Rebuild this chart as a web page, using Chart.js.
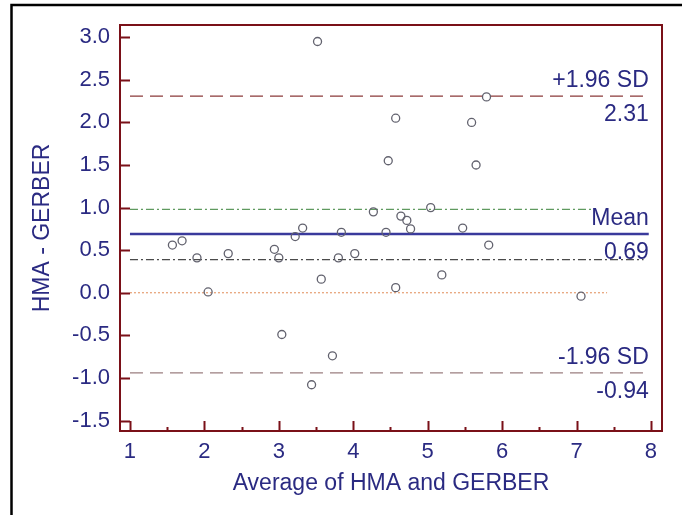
<!DOCTYPE html>
<html lang="pt-BR">
<head>
<meta charset="UTF-8">
<title>HMA x GERBER</title>
<script src="https://cdn.jsdelivr.net/npm/chart.js@4/dist/chart.umd.min.js"></script>
<style>
  html, body { margin: 0; padding: 0; background: #fff; }
  #wrap { position: relative; width: 682px; height: 515px; }
</style>
</head>
<body>
<div id="wrap"><canvas id="baChart" width="682" height="515"></canvas></div>
<script>
// Média de HMA e GERBER (eixo x) para cada amostra
const avgValues = [1.57, 1.70, 1.90, 2.05, 2.32, 2.94, 3.00, 3.04, 3.22, 3.32, 3.44,
  3.52, 3.57, 3.72, 3.80, 3.84, 4.02, 4.27, 4.44, 4.47, 4.57, 4.57, 4.64, 4.72,
  4.77, 5.04, 5.19, 5.47, 5.59, 5.65, 5.79, 5.82, 7.06];
// Diferença HMA - GERBER (eixo y)
const diffValues = [0.56, 0.61, 0.41, 0.01, 0.46, 0.51, 0.41, -0.49, 0.66, 0.76, -1.08,
  2.95, 0.16, -0.74, 0.41, 0.71, 0.46, 0.95, 0.71, 1.55, 2.05, 0.06, 0.90, 0.85,
  0.75, 1.00, 0.21, 0.76, 2.00, 1.50, 2.30, 0.56, -0.04];

// Linhas de referência: média e limites de concordância
const refNames = ['+1.96 SD', 'Mean', '-1.96 SD'];
const refValues = [2.31, 0.69, -0.94];
// Intervalo de confiança da média
const meanCi = [0.98, 0.39];

const xTicks = [1, 2, 3, 4, 5, 6, 7, 8];
const yTicks = [-1.5, -1.0, -0.5, 0.0, 0.5, 1.0, 1.5, 2.0, 2.5, 3.0];

const navy = '#2a2a82';
const maroon = '#7a1018';
const fontFamily = "'Liberation Sans', Arial, sans-serif";

// Função para montar uma linha horizontal entre x0 e x1
function hLine(y, x0, x1, color, width, dash) {
    return {
        data: [{ x: x0, y: y }, { x: x1, y: y }],
        showLine: true,
        borderColor: color,
        borderWidth: width,
        borderDash: dash,
        pointRadius: 0,
        fill: false
    };
}

// Moldura externa, caixa do gráfico, marcas internas e rótulos das linhas
const framePlugin = {
    id: 'framePlugin',
    beforeDraw(chart) {
        const ctx = chart.ctx;
        ctx.save();
        ctx.fillStyle = '#fff';
        ctx.fillRect(0, 0, chart.width, chart.height);
        ctx.strokeStyle = '#000';
        ctx.lineWidth = 2.5;
        ctx.beginPath();
        ctx.moveTo(11.5, chart.height);
        ctx.lineTo(11.5, 5);
        ctx.lineTo(chart.width, 5);
        ctx.stroke();
        ctx.restore();
    },
    afterDraw(chart) {
        const ctx = chart.ctx;
        const area = chart.chartArea;
        const xs = chart.scales.x;
        const ys = chart.scales.y;
        ctx.save();

        // caixa
        ctx.strokeStyle = maroon;
        ctx.lineWidth = 2;
        ctx.strokeRect(area.left, area.top, area.right - area.left, area.bottom - area.top);

        // marcas do eixo y (para dentro)
        ctx.beginPath();
        yTicks.forEach(v => {
            const py = Math.round(ys.getPixelForValue(v)) + 0.5;
            ctx.moveTo(area.left, py);
            ctx.lineTo(area.left + 10, py);
        });
        // marcas do eixo x
        xTicks.forEach((v, i) => {
            const px = Math.round(xs.getPixelForValue(v)) + 0.5;
            ctx.moveTo(px, area.bottom);
            ctx.lineTo(px, area.bottom - 10);
            if (i < xTicks.length - 1) {
                const pm = Math.round(xs.getPixelForValue((v + xTicks[i + 1]) / 2)) + 0.5;
                ctx.moveTo(pm, area.bottom);
                ctx.lineTo(pm, area.bottom - 4);
            }
        });
        ctx.stroke();

        // rótulos das linhas de referência
        ctx.fillStyle = navy;
        ctx.font = '23px ' + fontFamily;
        ctx.textAlign = 'right';
        ctx.textBaseline = 'alphabetic';
        const tx = xs.getPixelForValue(7.97);
        refValues.forEach((v, i) => {
            const py = ys.getPixelForValue(v);
            ctx.fillText(refNames[i], tx, py - 9);
            ctx.fillText(v.toFixed(2), tx, py + 25);
        });
        ctx.restore();
    }
};

const ctx = document.getElementById('baChart').getContext('2d');
new Chart(ctx, {
    type: 'scatter',
    data: {
        datasets: [
            {
                data: avgValues.map((x, i) => ({ x: x, y: diffValues[i] })),
                pointStyle: 'circle',
                pointRadius: 4,
                pointBorderWidth: 1.3,
                pointBorderColor: '#62626e',
                pointBackgroundColor: 'rgba(255,255,255,0)',
                showLine: false
            },
            hLine(refValues[1], 1, 7.97, '#3a3a9c', 2.5, []),
            hLine(refValues[0], 1, 7.97, '#8b3a3a', 1.2, [13, 7]),
            hLine(refValues[2], 1, 7.97, '#9b7f80', 1.2, [13, 7]),
            hLine(meanCi[0], 1, 7.2, '#5f9a5f', 1.2, [8, 3, 2, 3]),
            hLine(meanCi[1], 1, 7.9, '#4a4a4a', 1.2, [8, 3, 2, 3]),
            hLine(0, 1, 7.41, '#e08a55', 1, [2, 2])
        ]
    },
    options: {
        responsive: false,
        animation: false,
        devicePixelRatio: 1,
        layout: { padding: { top: 25, right: 20, left: 0, bottom: 0 } },
        plugins: {
            legend: { display: false },
            tooltip: { enabled: false }
        },
        scales: {
            x: {
                type: 'linear',
                min: 0.866,
                max: 8.148,
                afterBuildTicks: s => { s.ticks = xTicks.map(v => ({ value: v })); },
                afterFit: s => { s.height = 84; },
                grid: { display: false, drawTicks: false },
                border: { display: false },
                ticks: {
                    autoSkip: false,
                    maxRotation: 0,
                    padding: 8,
                    color: navy,
                    font: { family: fontFamily, size: 22 },
                    callback: v => String(v)
                },
                title: {
                    display: true,
                    text: 'Average of HMA and GERBER',
                    color: navy,
                    font: { family: fontFamily, size: 23 },
                    padding: { top: 0, bottom: 18 }
                }
            },
            y: {
                type: 'linear',
                min: -1.623,
                max: 3.144,
                afterBuildTicks: s => { s.ticks = yTicks.map(v => ({ value: v })); },
                afterFit: s => { s.width = 120; },
                grid: { display: false, drawTicks: false },
                border: { display: false },
                ticks: {
                    autoSkip: false,
                    padding: 10,
                    color: navy,
                    font: { family: fontFamily, size: 22 },
                    callback: v => v.toFixed(1)
                },
                title: {
                    display: true,
                    text: 'HMA - GERBER',
                    color: navy,
                    font: { family: fontFamily, size: 23 },
                    padding: { top: 29, bottom: 0 }
                }
            }
        }
    },
    plugins: [framePlugin]
});
</script>
</body>
</html>
